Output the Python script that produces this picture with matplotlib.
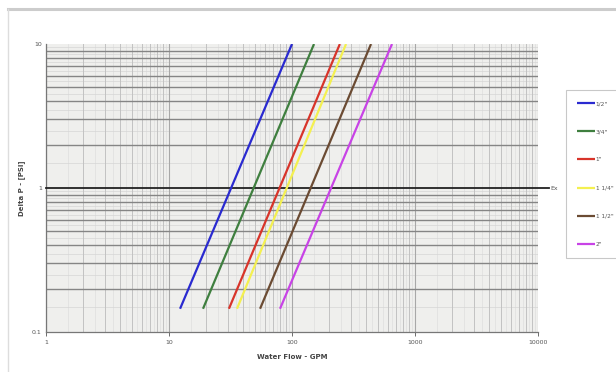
import numpy as np
import matplotlib
matplotlib.use("Agg")
import matplotlib.pyplot as plt
from matplotlib.ticker import LogLocator, FixedLocator, FixedFormatter, NullFormatter

# Data: flow endpoints (GPM) and pressure drop endpoints (PSI)
labels = ['1/2"', '3/4"', '1"', '1 1/4"', '1 1/2"', '2"']
colors = ['#2a2ad0', '#3f7f3f', '#d8342a', '#f4f050', '#6b4b33', '#c843e6']
flow_low = [12.3, 18.9, 30.7, 35.7, 55.0, 79.9]
flow_high = [100, 151, 245, 275, 439, 650]
dp_low = 0.145
dp_high = 10.0
ref_dp = 1.0
ref_label = "Ex"

x_ticks = [1, 10, 100, 1000, 10000]
x_ticklabels = ["1", "10", "100", "1000", "10000"]
y_ticks = [0.1, 1, 10]
y_ticklabels = ["0.1", "1", "10"]

fig = plt.figure(figsize=(6.16, 3.72), dpi=100)
fig.patch.set_facecolor('white')
ax = fig.add_axes([46/616, 1-332/372, (538-46)/616, (332-44)/372])
ax.set_facecolor('#efefed')
ax.set_xscale('log')
ax.set_yscale('log')
ax.set_xlim(1, 10000)
ax.set_ylim(0.1, 10)

# fine background grid (half steps)
for dec in [1, 10, 100, 1000]:
    for s in np.arange(1.5, 10, 1.0):
        ax.axvline(dec*s, color='#dedede', lw=0.5, zorder=0)
for dec in [0.1, 1]:
    for s in np.arange(1.5, 10, 1.0):
        ax.axhline(dec*s, color='#d6d6d6', lw=0.5, zorder=0)

ax.xaxis.set_major_locator(FixedLocator(x_ticks))
ax.xaxis.set_major_formatter(FixedFormatter(x_ticklabels))
ax.yaxis.set_major_locator(FixedLocator(y_ticks))
ax.yaxis.set_major_formatter(FixedFormatter(y_ticklabels))
ax.xaxis.set_minor_locator(LogLocator(base=10, subs=np.arange(2, 10)))
ax.yaxis.set_minor_locator(LogLocator(base=10, subs=np.arange(2, 10)))
ax.xaxis.set_minor_formatter(NullFormatter())
ax.yaxis.set_minor_formatter(NullFormatter())
ax.grid(which='major', axis='x', color='#a8a8a8', lw=0.8, zorder=1)
ax.grid(which='minor', axis='x', color='#c2c2c2', lw=0.7, zorder=1)
ax.grid(which='minor', axis='y', color='#858585', lw=1.0, zorder=1)
ax.set_axisbelow(True)

ax.tick_params(axis='both', which='major', labelsize=4.5, colors='#555555',
               length=3, width=0.6, direction='out', pad=3)
ax.tick_params(axis='both', which='minor', length=0)
ax.tick_params(axis='y', which='major', length=0)
for sp in ['top', 'right']:
    ax.spines[sp].set_visible(False)
for sp in ['left', 'bottom']:
    ax.spines[sp].set_color('#777777')
    ax.spines[sp].set_linewidth(0.9)

# reference line at 1 PSI
ax.plot([1, 10000*1.22], [ref_dp, ref_dp], color='#222222', lw=1.3, clip_on=False, zorder=3)
ax.text(10000*1.27, ref_dp, ref_label, fontsize=4.5, color='#555555', va='center', ha='left')

handles = []
for lab, c, fl, fh in zip(labels, colors, flow_low, flow_high):
    h, = ax.plot([fl, fh], [dp_low, dp_high], color=c, lw=1.6, label=lab,
                 solid_capstyle='butt', zorder=4)
    handles.append(h)

leg = fig.legend(handles=handles, labels=labels, loc='upper left',
                 bbox_to_anchor=(566/616, 1-90/372), fontsize=4.2,
                 frameon=True, fancybox=False, handlelength=3.0, handletextpad=0.2,
                 labelspacing=3.95, borderpad=1.9, borderaxespad=0)
leg.get_frame().set_edgecolor('#bbbbbb')
leg.get_frame().set_linewidth(0.8)
for t in leg.get_texts():
    t.set_color('#555555')

ax.set_xlabel('Water Flow - GPM', fontsize=5, fontweight='bold', color='#444444', labelpad=6)
ax.set_ylabel('Delta P - [PSI]', fontsize=5, fontweight='bold', color='#444444', labelpad=5)

# outer frame lines
fig.add_artist(plt.Line2D([8/616, 1], [1-9/372, 1-9/372], color='#cccccc', lw=2.2))
fig.add_artist(plt.Line2D([8/616, 8/616], [1-9/372, 0.0], color='#dddddd', lw=1.0))

fig.savefig('out.png', dpi=100, facecolor='white')
